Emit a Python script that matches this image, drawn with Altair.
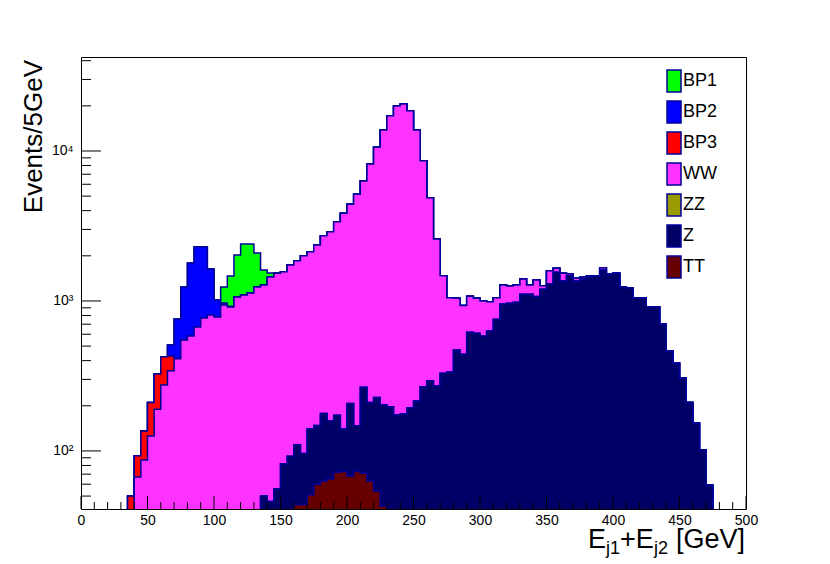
import altair as alt
import pandas as pd

# ---------------- data (events per 5 GeV bin, bins starting at bin_lo) ----------------
bin_lo = list(range(35, 475, 5))  # 35 ... 470

ww = [28, 67, 87, 126, 190, 275, 342, 411, 550, 584,
      671, 771, 807, 782, 940, 912, 1063, 1096, 1130, 1240,
      1229, 1399, 1474, 1485, 1646, 1747, 1908, 1992, 2214, 2547,
      2738, 3206, 3706, 4209, 4993, 6044, 7975, 10363, 13597, 16983,
      19776, 20384, 18376, 13585, 8342, 4586, 2319, 1144, 716, 571,
      489, 456, 432, 416, 358, 297, 324, 293, 299, 293,
      170, 311, 68, 294, 99, 171, 40, 57, 37, 16,
      5, 57, 4, 2, 1, 1, 1, 1, 1, 1,
      0, 0, 0, 0, 0, 0, 0, 0]

z = [0, 0, 0, 0, 0, 0, 0, 0, 0, 0,
     0, 0, 0, 0, 0, 0, 0, 0, 0, 0,
     45, 38, 44, 64, 64, 66, 52, 89, 88, 115,
     94, 101, 67, 139, 74, 195, 147, 173, 160, 167,
     156, 166, 189, 213, 268, 294, 271, 330, 336, 471,
     442, 619, 610, 584, 631, 755, 955, 966, 980, 1109,
     1109, 1069, 1197, 1298, 1553, 1359, 1474, 1359, 1402, 1452,
     1463, 1610, 1510, 1528, 1244, 1226, 1051, 1041, 915, 915,
     699, 464, 384, 305, 210, 153, 102, 59]

tt = [0, 0, 0, 0, 0, 0, 0, 0, 0, 0,
      0, 0, 0, 0, 0, 0, 0, 0, 0, 0,
      5, 8, 12, 18, 28, 44, 44, 51, 60, 63,
      65, 72, 73, 68, 73, 71, 63, 54, 43, 30,
      18, 10, 5, 2, 0, 0, 0, 0, 0, 0,
      0, 0, 0, 0, 0, 0, 0, 0, 0, 0,
      0, 0, 0, 0, 0, 0, 0, 0, 0, 0,
      0, 0, 0, 0, 0, 0, 0, 0, 0, 0,
      0, 0, 0, 0, 0, 0, 0, 0]

zz = [0] * len(bin_lo)

bp3 = [22, 26, 49, 84, 136, 150, 88, 4, 2, 1] + [0] * 78

bp2 = [0, 0, 0, 0, 0, 0, 79, 344, 688, 1206,
       1630, 1530, 826, 234, 30, 10, 4, 2] + [0] * 70

bp1 = [0, 0, 0, 0, 0, 0, 0, 0, 0, 0,
       0, 0, 0, 0, 270, 546, 960, 1301, 1269, 849,
       331, 93, 8] + [0] * 65

names = ["BP1", "BP2", "BP3", "WW", "ZZ", "Z", "TT"]
colors = ["#00ff00", "#0000ff", "#ff0000", "#ff33ff", "#999900", "#000066", "#660000"]
series = {"BP1": bp1, "BP2": bp2, "BP3": bp3, "WW": ww, "ZZ": zz, "Z": z, "TT": tt}
stack_bottom_up = ["TT", "Z", "ZZ", "WW", "BP3", "BP2", "BP1"]

x_ticks_major = list(range(0, 550, 50))
x_ticks_minor = [v for v in range(0, 510, 10) if v % 50 != 0]
y_ticks_major = [100, 1000, 10000]
y_ticks_minor = [50, 60, 70, 80, 90, 200, 300, 400, 500, 600, 700, 800, 900,
                 2000, 3000, 4000, 5000, 6000, 7000, 8000, 9000, 20000, 30000, 40000]

# ---------------- build stacked histograms ----------------
edges = list(range(0, 505, 5))
lookup = {s: dict(zip(bin_lo, series[s])) for s in series}
running = [0] * 100
cum = {}
for s in stack_bottom_up:
    running = [a + lookup[s].get(e, 0) for a, e in zip(running, range(0, 500, 5))]
    cum[s] = running

W, H = 665, 452
YMIN, YMAX = 41, 42340
xscale = alt.Scale(domain=[0, 500], nice=False, zero=False)
yscale = alt.Scale(type="log", domain=[YMIN, YMAX], nice=False)
FONT = "Liberation Sans"

xaxis = alt.Axis(values=x_ticks_major, title=None, ticks=False, domain=False, grid=False,
                 labelFont=FONT, labelFontSize=14, labelPadding=4, labelColor="black",
                 format="d", labelFlush=False)
yaxis = alt.Axis(values=y_ticks_major, title=None, ticks=False, domain=False, grid=False,
                 labelFont=FONT, labelFontSize=14, labelPadding=8, labelColor="black",
                 labelExpr="datum.value == 100 ? '10²' : datum.value == 1000 ? '10³' : '10⁴'")
color = alt.Color("series:N", scale=alt.Scale(domain=names, range=colors),
                  legend=alt.Legend(title=None, orient="none", legendX=577, legendY=12,
                                    symbolType="M-0.27,-1H1V1H-0.27Z", symbolSize=484,
                                    symbolStrokeColor="#000099", symbolStrokeWidth=1.5,
                                    symbolOpacity=1, labelFont=FONT, labelFontSize=18,
                                    labelColor="black", rowPadding=3, labelOffset=1, padding=0))

layers = []
for s in reversed(stack_bottom_up):
    vals = cum[s] + [cum[s][-1]]
    df = pd.DataFrame({"edge": edges, "count": [max(v, 1) for v in vals], "series": s})
    base = alt.Chart(df)
    layers.append(base.mark_area(interpolate="step-after", clip=True, opacity=1).encode(
        x=alt.X("edge:Q", scale=xscale, axis=xaxis),
        y=alt.Y("count:Q", scale=yscale, axis=yaxis, stack=None),
        y2=alt.datum(1),
        color=color))
    layers.append(base.mark_line(interpolate="step-after", clip=True, color="#000099",
                                 strokeWidth=1.5).encode(
        x=alt.X("edge:Q", scale=xscale, axis=xaxis),
        y=alt.Y("count:Q", scale=yscale, axis=yaxis)))

# inward ticks
ym = alt.Chart(pd.DataFrame({"count": y_ticks_major})).mark_rule(color="black", strokeWidth=1).encode(
    y=alt.Y("count:Q", scale=yscale, axis=yaxis), x=alt.value(0), x2=alt.value(20))
yn = alt.Chart(pd.DataFrame({"count": y_ticks_minor})).mark_rule(color="black", strokeWidth=1).encode(
    y=alt.Y("count:Q", scale=yscale, axis=yaxis), x=alt.value(0), x2=alt.value(10))
xm = alt.Chart(pd.DataFrame({"edge": x_ticks_major})).mark_rule(color="black", strokeWidth=1).encode(
    x=alt.X("edge:Q", scale=xscale, axis=xaxis), y=alt.value(H), y2=alt.value(H - 13))
xn = alt.Chart(pd.DataFrame({"edge": x_ticks_minor})).mark_rule(color="black", strokeWidth=1).encode(
    x=alt.X("edge:Q", scale=xscale, axis=xaxis), y=alt.value(H), y2=alt.value(H - 7))
layers += [ym, yn, xm, xn]

def label(text, x, y, size, angle=0, align="left"):
    return alt.Chart(pd.DataFrame({"t": [text]})).mark_text(
        font=FONT, fontSize=size, align=align, baseline="alphabetic", angle=angle, color="black"
    ).encode(text="t:N", x=alt.value(x), y=alt.value(y))

# x title  E_j1 + E_j2 [GeV]
layers += [
    label("E", 507, 491, 27),
    label("j1", 525, 497, 18),
    label("+E", 539, 491, 27),
    label("j2", 573, 497, 18),
    label("[GeV]", 595, 491, 27),
    label("Events/5GeV", -39, 3, 26, angle=270, align="right"),
]

chart = alt.layer(*layers).properties(
    width=W, height=H,
    autosize=alt.AutoSizeParams(type="none"),
    padding={"left": 73, "top": 49, "right": 60, "bottom": 54},
).configure_view(stroke="black", strokeWidth=1)

chart.save("out.html", embed_options={"renderer": "svg", "actions": False})
